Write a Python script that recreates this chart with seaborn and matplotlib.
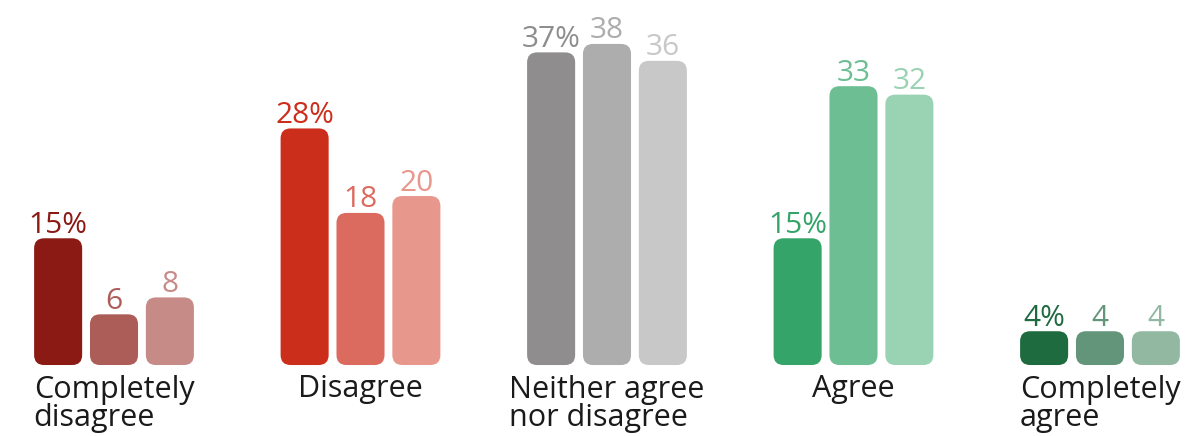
import matplotlib
matplotlib.use("Agg")
import matplotlib.pyplot as plt
import seaborn as sns
import pandas as pd
from matplotlib.patches import FancyBboxPatch

categories = ["Completely\ndisagree", "Disagree", "Neither agree\nnor disagree", "Agree", "Completely\nagree"]
series_names = ["Series 1", "Series 2", "Series 3"]
series1 = [15, 28, 37, 15, 4]
series2 = [6, 18, 38, 33, 4]
series3 = [8, 20, 36, 32, 4]
colors = [
    ["#8B1A14", "#AD5D58", "#C68A87"],
    ["#CC2E1C", "#DC6B5F", "#E8978D"],
    ["#8F8D8E", "#ADADAD", "#C8C8C8"],
    ["#34A469", "#6DBE93", "#9AD3B3"],
    ["#1F6B40", "#62957A", "#92B8A2"],
]

rows = []
for s, vals in zip(series_names, [series1, series2, series3]):
    for c, v in zip(categories, vals):
        rows.append({"category": c, "series": s, "value": v})
df = pd.DataFrame(rows)

sns.set_theme(style="white")
plt.rcParams["font.family"] = ["Open Sans", "DejaVu Sans"]

fig = plt.figure(figsize=(11.87, 4.36), dpi=100)
ax = fig.add_axes([0, 0, 1, 1])
sns.barplot(data=df, x="category", y="value", hue="series", order=categories,
            hue_order=series_names, width=0.68, gap=0.14, dodge=True,
            palette=["#888888"] * 3, legend=False, ax=ax, errorbar=None)

ax.set_xlim(-0.4625, 4.353)
ax.set_ylim(-8.4, 43.2)
ax.axis("off")

# px scale
px_x = (4.353 + 0.4625) / 1187
px_y = (43.2 + 8.4) / 436
r = 10

patches = list(ax.patches)
for k, p in enumerate(patches):
    si = k // len(categories)
    ci = k % len(categories)
    x0, y0 = p.get_x(), p.get_y()
    w, h = p.get_width(), p.get_height()
    col = colors[ci][si]
    p.set_visible(False)
    fb = FancyBboxPatch((x0, y0), w, h,
                        boxstyle=f"round,pad=0,rounding_size={r * px_x}",
                        mutation_aspect=px_y / px_x,
                        facecolor=col, edgecolor="none")
    ax.add_patch(fb)
    val = int(round(h))
    label = f"{val}%" if si == 0 else f"{val}"
    ax.text(x0 + w / 2, y0 + h + 5.5 * px_y, label, ha="center", va="baseline",
            color=col, fontsize=21.5)

for ci, c in enumerate(categories):
    nlines = c.count("\n") + 1
    ax.text(ci, -(32 + 29 * (nlines - 1)) * px_y, c, ha="center", va="baseline",
            multialignment="left", fontsize=22, color="#1a1a1a", linespacing=0.9)

fig.savefig("out.png", dpi=100)
